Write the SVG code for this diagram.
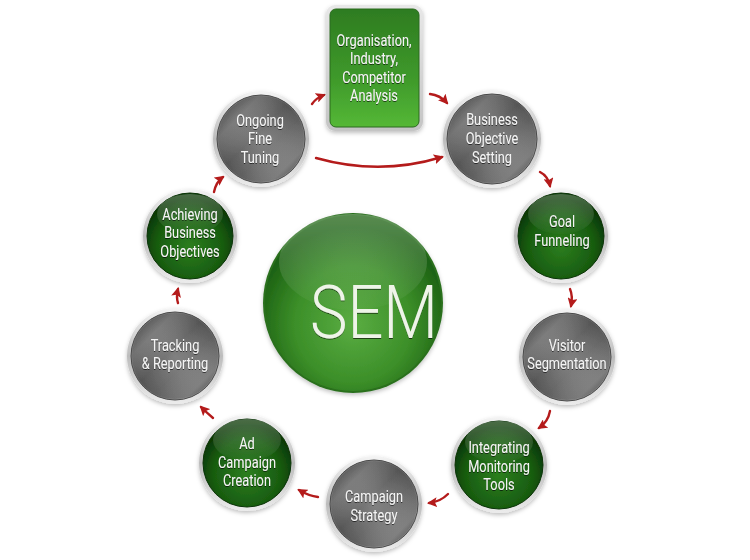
<svg xmlns="http://www.w3.org/2000/svg" width="750" height="560" viewBox="0 0 750 560">
<defs>
  <linearGradient id="ring" x1="0" y1="0" x2="0" y2="1">
    <stop offset="0" stop-color="#f4f4f4"/>
    <stop offset="0.5" stop-color="#bcbcbc"/>
    <stop offset="1" stop-color="#ececec"/>
  </linearGradient>
  <linearGradient id="metal" x1="0" y1="0" x2="1" y2="1">
    <stop offset="0" stop-color="#585858"/>
    <stop offset="0.25" stop-color="#888888"/>
    <stop offset="0.45" stop-color="#666666"/>
    <stop offset="0.6" stop-color="#727272"/>
    <stop offset="0.8" stop-color="#959595"/>
    <stop offset="1" stop-color="#555555"/>
  </linearGradient>
  <radialGradient id="metalShine" cx="0.5" cy="0.5" r="0.5">
    <stop offset="0" stop-color="#ffffff" stop-opacity="0.15"/>
    <stop offset="1" stop-color="#000000" stop-opacity="0.18"/>
  </radialGradient>
  <radialGradient id="green" cx="0.5" cy="0.62" r="0.55">
    <stop offset="0" stop-color="#2c7e1e"/>
    <stop offset="0.7" stop-color="#185c10"/>
    <stop offset="1" stop-color="#0b3a06"/>
  </radialGradient>
  <radialGradient id="sem" cx="0.5" cy="0.62" r="0.55">
    <stop offset="0" stop-color="#5aad42"/>
    <stop offset="0.6" stop-color="#3c8f29"/>
    <stop offset="1" stop-color="#1d6213"/>
  </radialGradient>
  <linearGradient id="gloss" x1="0" y1="0" x2="0" y2="1">
    <stop offset="0" stop-color="#ffffff" stop-opacity="0.26"/>
    <stop offset="1" stop-color="#ffffff" stop-opacity="0.02"/>
  </linearGradient>
  <linearGradient id="boxFill" x1="0" y1="0" x2="0" y2="1">
    <stop offset="0" stop-color="#2e7c21"/>
    <stop offset="0.6" stop-color="#3f9a2b"/>
    <stop offset="1" stop-color="#55b836"/>
  </linearGradient>
  <linearGradient id="boxRing" x1="0" y1="0" x2="0" y2="1">
    <stop offset="0" stop-color="#e8e8e8"/>
    <stop offset="1" stop-color="#c4c4c4"/>
  </linearGradient>
  <filter id="ts" x="-20%" y="-20%" width="140%" height="140%">
    <feDropShadow dx="0" dy="1" stdDeviation="0.6" flood-color="#000" flood-opacity="0.6"/>
  </filter>
  <filter id="sh" x="-20%" y="-20%" width="140%" height="140%">
    <feDropShadow dx="0" dy="2" stdDeviation="2" flood-color="#000" flood-opacity="0.25"/>
  </filter>
  <marker id="ah" markerUnits="userSpaceOnUse" markerWidth="10" markerHeight="10" viewBox="0 0 10 10" refX="8" refY="5" orient="auto">
    <path d="M0,0 L10,5 L0,10 L2,5 Z" fill="#b41b1b"/>
  </marker>
</defs>
<style>
  .ring { fill: url(#ring); }
  .metal { fill: url(#metal); stroke: #4a4a4a; stroke-width: 1; }
  .shine { fill: url(#metalShine); }
  .grn { fill: url(#green); stroke: #0a3306; stroke-width: 1; }
  .gloss { fill: url(#gloss); }
  .lbl { font-family: Roboto, "Liberation Sans", sans-serif; font-size: 16px; fill: #f4f4f4; text-anchor: middle; filter: url(#ts); }
  .arr { fill: none; stroke: #b41b1b; stroke-width: 2.4; stroke-linecap: round; marker-end: url(#ah); }
</style>

<g id="connectors">
  <path class="arr" d="M312,104 Q316,98 324,95"/>
  <path class="arr" d="M430,94 Q440,95 447,103"/>
  <path class="arr" d="M316,158 Q380,176 442,157"/>
  <path class="arr" d="M540,172 Q548,176 550,186"/>
  <path class="arr" d="M570,289 Q573,296 571,306"/>
  <path class="arr" d="M550,411 Q548,422 539,428"/>
  <path class="arr" d="M448,494 Q440,502 429,503"/>
  <path class="arr" d="M318,497 Q309,496 299,490"/>
  <path class="arr" d="M213,418 Q206,412 201,407"/>
  <path class="arr" d="M178,303 Q176,297 178,289"/>
  <path class="arr" d="M214,192 Q216,182 223,177"/>
</g>

<g id="node-sem" filter="url(#sh)">
  <circle cx="353" cy="303" r="90" fill="#2a6f1e"/>
  <circle cx="353" cy="303" r="88" fill="url(#sem)"/>
  <ellipse cx="353" cy="262" rx="74" ry="48" class="gloss"/>
  <text x="374" y="338" font-family="Roboto, 'Liberation Sans', sans-serif" font-weight="300" font-size="75" fill="#eef4e8" text-anchor="middle" textLength="128" lengthAdjust="spacingAndGlyphs" filter="url(#ts)">SEM</text>
</g>

<g id="node-analysis" filter="url(#sh)">
  <rect x="326" y="5" width="97" height="126" rx="9" fill="url(#boxRing)"/>
  <rect x="330" y="9" width="89" height="118" rx="6" fill="url(#boxFill)" stroke="#2a6a1e" stroke-width="1"/>
  <g transform="translate(374,0) scale(0.8,1)">
    <text class="lbl" x="0" y="46">Organisation,</text>
    <text class="lbl" x="0" y="64">Industry,</text>
    <text class="lbl" x="0" y="83">Competitor</text>
    <text class="lbl" x="0" y="101">Analysis</text>
  </g>
</g>

<g id="node-business-objective" filter="url(#sh)">
  <circle class="ring" cx="492" cy="139" r="49"/>
  <circle class="metal" cx="492" cy="139" r="45"/>
  <circle class="shine" cx="492" cy="139" r="44"/>
  <g transform="translate(492,0) scale(0.8,1)">
    <text class="lbl" x="0" y="125">Business</text>
    <text class="lbl" x="0" y="144">Objective</text>
    <text class="lbl" x="0" y="163">Setting</text>
  </g>
</g>

<g id="node-goal" filter="url(#sh)">
  <circle class="ring" cx="561" cy="236" r="47"/>
  <circle class="grn" cx="561" cy="236" r="43"/>
  <ellipse class="gloss" cx="561" cy="214" rx="33" ry="20"/>
  <g transform="translate(562,0) scale(0.8,1)">
    <text class="lbl" x="0" y="227">Goal</text>
    <text class="lbl" x="0" y="246">Funneling</text>
  </g>
</g>

<g id="node-visitor" filter="url(#sh)">
  <circle class="ring" cx="567" cy="357" r="48"/>
  <circle class="metal" cx="567" cy="357" r="44"/>
  <circle class="shine" cx="567" cy="357" r="43"/>
  <g transform="translate(567,0) scale(0.8,1)">
    <text class="lbl" x="0" y="351">Visitor</text>
    <text class="lbl" x="0" y="369">Segmentation</text>
  </g>
</g>

<g id="node-integrating" filter="url(#sh)">
  <circle class="ring" cx="499" cy="465" r="48"/>
  <circle class="grn" cx="499" cy="465" r="44"/>
  <ellipse class="gloss" cx="499" cy="442" rx="34" ry="21"/>
  <g transform="translate(499,0) scale(0.8,1)">
    <text class="lbl" x="0" y="453">Integrating</text>
    <text class="lbl" x="0" y="472">Monitoring</text>
    <text class="lbl" x="0" y="490">Tools</text>
  </g>
</g>

<g id="node-campaign-strategy" filter="url(#sh)">
  <circle class="ring" cx="374" cy="504" r="48"/>
  <circle class="metal" cx="374" cy="504" r="44"/>
  <circle class="shine" cx="374" cy="504" r="43"/>
  <g transform="translate(374,0) scale(0.8,1)">
    <text class="lbl" x="0" y="502">Campaign</text>
    <text class="lbl" x="0" y="521">Strategy</text>
  </g>
</g>

<g id="node-ad-campaign" filter="url(#sh)">
  <circle class="ring" cx="247" cy="463" r="48"/>
  <circle class="grn" cx="247" cy="463" r="44"/>
  <ellipse class="gloss" cx="247" cy="440" rx="34" ry="21"/>
  <g transform="translate(247,0) scale(0.8,1)">
    <text class="lbl" x="0" y="449">Ad</text>
    <text class="lbl" x="0" y="468">Campaign</text>
    <text class="lbl" x="0" y="486">Creation</text>
  </g>
</g>

<g id="node-tracking" filter="url(#sh)">
  <circle class="ring" cx="175" cy="356" r="48"/>
  <circle class="metal" cx="175" cy="356" r="44"/>
  <circle class="shine" cx="175" cy="356" r="43"/>
  <g transform="translate(175,0) scale(0.8,1)">
    <text class="lbl" x="0" y="351">Tracking</text>
    <text class="lbl" x="0" y="369">&amp; Reporting</text>
  </g>
</g>

<g id="node-achieving" filter="url(#sh)">
  <circle class="ring" cx="190" cy="236" r="47"/>
  <circle class="grn" cx="190" cy="236" r="43"/>
  <ellipse class="gloss" cx="190" cy="214" rx="33" ry="20"/>
  <g transform="translate(190,0) scale(0.8,1)">
    <text class="lbl" x="0" y="220">Achieving</text>
    <text class="lbl" x="0" y="238">Business</text>
    <text class="lbl" x="0" y="257">Objectives</text>
  </g>
</g>

<g id="node-ongoing" filter="url(#sh)">
  <circle class="ring" cx="261" cy="139" r="48"/>
  <circle class="metal" cx="261" cy="139" r="44"/>
  <circle class="shine" cx="261" cy="139" r="43"/>
  <g transform="translate(260,0) scale(0.8,1)">
    <text class="lbl" x="0" y="126">Ongoing</text>
    <text class="lbl" x="0" y="144">Fine</text>
    <text class="lbl" x="0" y="163">Tuning</text>
  </g>
</g>
</svg>
